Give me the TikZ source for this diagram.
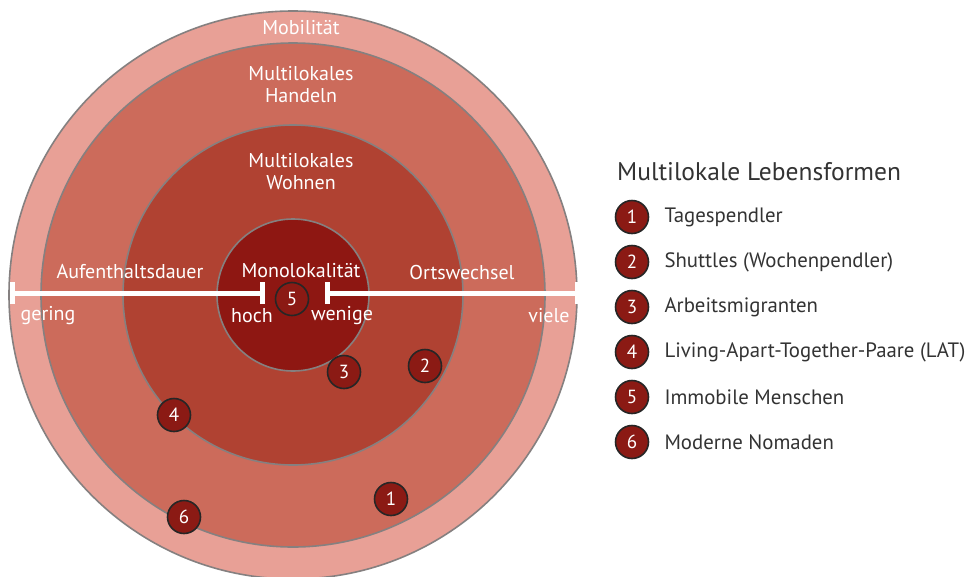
\documentclass[tikz,border=0pt]{standalone}
\usepackage{fontspec}
\setmainfont{PT Sans}
\usepackage{xcolor}
\usepackage{tikz}
\usetikzlibrary{positioning}

\definecolor{ringmob}{HTML}{E8A096}
\definecolor{ringhan}{HTML}{CC6B5B}
\definecolor{ringwoh}{HTML}{B04232}
\definecolor{ringmono}{HTML}{8E1712}
\definecolor{ringline}{HTML}{858080}
\definecolor{badgered}{HTML}{8B1A14}
\definecolor{legendtext}{HTML}{333333}

\tikzset{
  ring/.style={draw=ringline, line width=1.6pt},
  badge/.style={circle, draw=black!85, line width=1.6pt, fill=badgered, text=white,
    minimum size=33pt, inner sep=0pt, font=\fontsize{19}{19}\selectfont},
  lbl/.style={text=white, align=center, inner sep=0pt, font=\fontsize{20}{22}\selectfont},
  legitem/.style={text=legendtext, anchor=west, inner sep=0pt, font=\fontsize{20.8}{21}\selectfont},
  bar/.style={white, line width=5pt},
  tick/.style={white, line width=5pt}
}

\begin{document}
\begin{tikzpicture}[x=1pt,y=-1pt]
    \useasboundingbox[fill=white] (0,0) rectangle (968,576);
    \clip (0,0) rectangle (968,576);

    \coordinate (c) at (293,295);
    \draw[ring, fill=ringmob] (c) circle (284pt);
    \draw[ring, fill=ringhan] (c) circle (252pt);
    \draw[ring, fill=ringwoh] (c) circle (170pt);
    \draw[ring, fill=ringmono] (c) circle (76pt);

    \node[lbl] (mob) at (301,28) {Mobilität};
    \node[lbl] (han) at (301,85) {Multilokales\\Handeln};
    \node[lbl] (woh) at (301,172) {Multilokales\\Wohnen};
    \node[lbl] (mono) at (301,271) {Monolokalität};
    \node[lbl] (dauer) at (130,272) {Aufenthaltsdauer};
    \node[lbl] (wechsel) at (462,272) {Ortswechsel};

    % axis
    \coordinate (barL) at (12,293);
    \coordinate (barLi) at (262,293);
    \coordinate (barRi) at (327,293);
    \coordinate (barR) at (577,293);
    \draw[bar] (barL) -- (barLi);
    \draw[bar] (barRi) -- (barR);
    \foreach \p in {barL,barLi,barRi,barR}
        \draw[tick] ([yshift=-11pt]\p) -- ([yshift=11pt]\p);

    \node[lbl] (gering) at (48,316) {gering};
    \node[lbl] (hoch) at (252,316) {hoch};
    \node[lbl] (wenige) at (342,316) {wenige};
    \node[lbl] (viele) at (549,316) {viele};

    \node[badge] (b5) at (292,299) {5};
    \node[badge] (b3) at (344,372) {3};
    \node[badge] (b2) at (425,366) {2};
    \node[badge] (b4) at (174,415) {4};
    \node[badge] (b1) at (391,499) {1};
    \node[badge] (b6) at (184,517) {6};

    % legend
    \node[legitem, font=\fontsize{25.5}{26}\selectfont] (title) at (617,172) {Multilokale Lebensformen};
    \foreach \n/\txt [count=\i from 0] in {1/Tagespendler, 2/Shuttles (Wochenpendler),
        3/Arbeitsmigranten, 4/Living-Apart-Together-Paare (LAT),
        5/Immobile Menschen, 6/Moderne Nomaden} {
        \node[badge] (l\n) at (632,217+45*\i) {\n};
        \node[legitem, right=15pt of l\n] (t\n) {\txt};
    }
\end{tikzpicture}
\end{document}
